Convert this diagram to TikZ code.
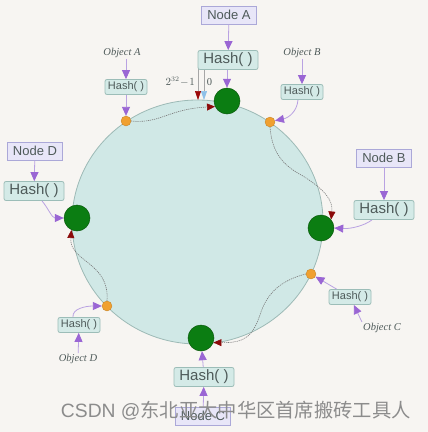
\documentclass[tikz,border=0pt]{standalone}
\usepackage{fontspec}
\setmainfont{Liberation Serif}
\setsansfont{Liberation Sans}
\newfontfamily\cjkfont{Noto Sans CJK SC}
\newfontfamily\wmlatin{Liberation Sans}
\usetikzlibrary{arrows.meta,calc}
\definecolor{bgc}{HTML}{F7F5F2}
\definecolor{ringfill}{HTML}{D0E8E6}
\definecolor{ringdraw}{HTML}{9DBAB6}
\definecolor{hashfill}{HTML}{D4EAE7}
\definecolor{hashdraw}{HTML}{9CBDB8}
\definecolor{nodefill}{HTML}{E8E6F8}
\definecolor{nodedraw}{HTML}{ABA8D8}
\definecolor{txt}{HTML}{4E5A59}
\definecolor{purp}{HTML}{9A66D4}
\definecolor{purpline}{HTML}{B9A2E2}
\definecolor{srvfill}{HTML}{0B7D12}
\definecolor{srvdraw}{HTML}{0A5A0C}
\definecolor{objfill}{HTML}{F0A030}
\definecolor{darkred}{HTML}{8B0A0A}
\definecolor{lightblue}{HTML}{8EC0E8}
\definecolor{pathc}{HTML}{7A7A7A}
\begin{document}
\begin{tikzpicture}[x=1pt,y=-1pt,
  hashbig/.style={draw=hashdraw,fill=hashfill,rounded corners=2pt,line width=0.8pt,
    minimum width=60pt,minimum height=19pt,inner sep=0pt,text=txt,
    font=\sffamily\fontsize{15}{15}\selectfont},
  hashsmall/.style={draw=hashdraw,fill=hashfill,rounded corners=2pt,line width=0.8pt,
    minimum width=42pt,minimum height=15pt,inner sep=0pt,text=txt,
    font=\sffamily\fontsize{11}{11}\selectfont},
  nodebox/.style={draw=nodedraw,fill=nodefill,line width=0.8pt,
    minimum width=55pt,minimum height=18pt,inner sep=0pt,text=txt,
    font=\sffamily\fontsize{13}{13}\selectfont},
  server/.style={circle,fill=srvfill,draw=srvdraw,line width=0.5pt,minimum size=26pt,inner sep=0pt},
  objdot/.style={circle,fill=objfill,draw=objfill!80!black,line width=0.3pt,minimum size=10pt,inner sep=0pt},
  objtext/.style={text=txt,font=\itshape\fontsize{10.5}{10.5}\selectfont,inner sep=1pt},
  parrow/.style={draw=purpline,line width=0.8pt,-{Triangle[length=9pt,width=8pt,color=purp]}},
  ringpath/.style={draw=pathc,line width=0.6pt,dash pattern=on 1.2pt off 0.9pt,
    -{Triangle[length=8pt,width=7pt,color=darkred]}}
]
\useasboundingbox[fill=bgc] (0,0) rectangle (428,432);

% ring
\draw[fill=ringfill,draw=ringdraw,line width=0.8pt] (197.5,222) ellipse [x radius=125.5pt, y radius=122pt];

% zero marker
\coordinate (m1t) at (198,69);
\coordinate (m1b) at (198,100);
\coordinate (m2t) at (204,69);
\coordinate (m2b) at (204,100);
\draw[draw=gray!70,line width=0.6pt,-{Triangle[length=9pt,width=6pt,color=darkred!85!red]}] (m1t) -- (m1b);
\draw[draw=gray!70,line width=0.6pt,-{Triangle[length=9pt,width=6pt,color=lightblue]}] (m2t) -- (m2b);
\node[text=txt,font=\fontsize{10.5}{10.5}\selectfont,anchor=east,inner sep=0pt] (lmax) at (195,82) {$2^{32}\!-\!1$};
\node[text=txt,font=\fontsize{10.5}{10.5}\selectfont,inner sep=0pt] (lzero) at (209.5,82) {0};

% servers
\node[server] (gA) at (227,101) {};
\node[server] (gB) at (321,228) {};
\node[server] (gC) at (201,338) {};
\node[server] (gD) at (77,218) {};

% object dots
\node[objdot] (dA) at (126,121) {};
\node[objdot] (dB) at (270,122) {};
\node[objdot] (dC) at (311,274) {};
\node[objdot] (dD) at (107,306) {};

% ring paths
\draw[ringpath] (dA.east) .. controls (160,124) and (168,109) .. (gA.205);
\draw[ringpath] (dB.south) .. controls (272,150) and (280,164) .. (303,176)
  .. controls (325,190) and (333,200) .. (gB.40);
\draw[ringpath] (dC.west) .. controls (282,280) and (268,292) .. (261,312)
  .. controls (253,336) and (246,343) .. (gC.340);
\draw[ringpath] (dD.north) .. controls (110,262) and (69,262) .. (gD.245);

% Node A
\node[nodebox] (nA) at (229,15) {Node A};
\node[hashbig] (hA) at (228,60) {Hash( )};
\draw[parrow] (nA) -- (hA);
\draw[parrow] (hA.south -| gA) -- (gA);

% Node B
\node[nodebox] (nB) at (384,158) {Node B};
\node[hashbig] (hB) at (384,210) {Hash( )};
\draw[parrow] (nB) -- (hB);
\draw[parrow] ($(hB.south)+(-12,0)$) .. controls (364,226) and (350,229) .. (gB.east);

% Node C
\node[hashbig] (hC) at (204,377) {Hash( )};
\node[nodebox] (nC) at (203,416) {Node C};
\draw[parrow] (nC) -- (hC);
\draw[parrow] (hC) -- (gC);

% Node D
\node[nodebox] (nD) at (35,151) {Node D};
\node[hashbig] (hD) at (34,191) {Hash( )};
\draw[parrow] (nD) -- (hD);
\draw[parrow] ($(hD.south)+(8,0)$) .. controls (48,208) and (52,218) .. (gD.west);

% Object A
\node[objtext] (oA) at (122,53) {Object A};
\node[hashsmall] (hOA) at (126,87) {Hash( )};
\draw[parrow] (oA.south -| hOA) -- (hOA);
\draw[parrow] (hOA) -- (dA);

% Object B
\node[objtext] (oB) at (302,53) {Object B};
\node[hashsmall] (hOB) at (302,92) {Hash( )};
\draw[parrow] (oB) -- (hOB);
\draw[parrow] ($(hOB.south)+(-4,0)$) .. controls (297,112) and (288,118) .. (dB.15);

% Object C
\node[objtext] (oC) at (382,328) {Object C};
\node[hashsmall] (hOC) at (350,297) {Hash( )};
\draw[parrow] (oC.north west) -- (hOC);
\draw[parrow] (hOC) -- (dC);

% Object D
\node[objtext] (oD) at (78,359) {Object D};
\node[hashsmall] (hOD) at (79,325) {Hash( )};
\draw[parrow] (oD) -- (hOD);
\draw[parrow] ($(hOD.north)+(-6,0)$) .. controls (72,309) and (85,306) .. (dD.west);

% watermark
\node[text=black!45,font=\cjkfont\fontsize{19.3}{19.3}\selectfont,anchor=east,inner sep=0pt] (wm) at (411,411) {{\wmlatin CSDN @}东北亚大中华区首席搬砖工具人};
\end{tikzpicture}
\end{document}
